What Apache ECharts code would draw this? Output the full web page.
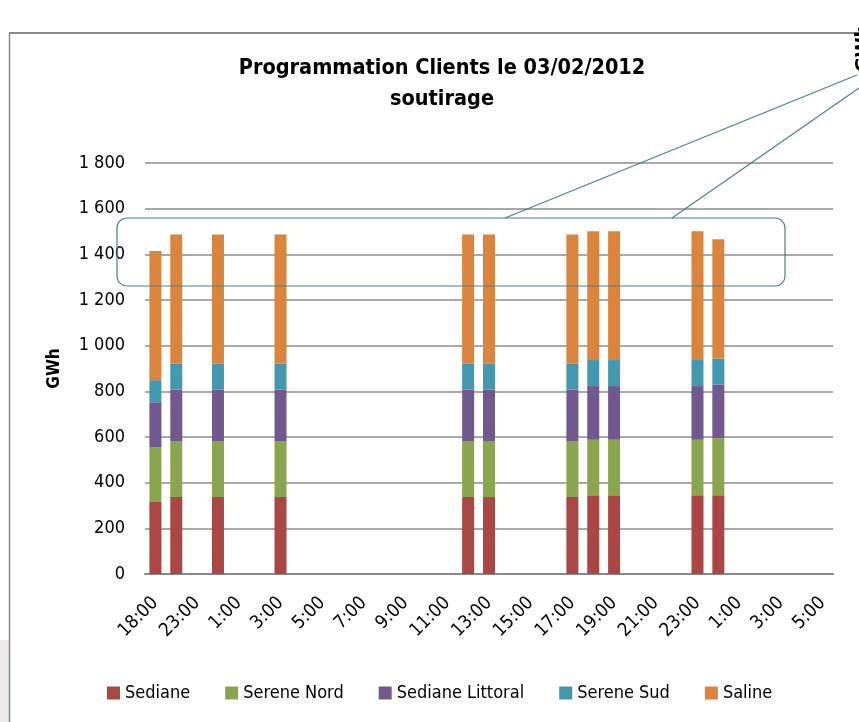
<!DOCTYPE html>
<html>
<head>
<meta charset="utf-8">
<script src="https://cdn.jsdelivr.net/npm/echarts@6/dist/echarts.min.js"></script>
<style>
  html, body { margin: 0; padding: 0; background: #fff; }
  #chart { width: 859px; height: 722px; }
</style>
</head>
<body>
<div id="chart"></div>
<script>
// heures (une categorie par heure affichee, une etiquette sur deux)
var hours = ['18:00', '22:00', '23:00', '0:00', '1:00', '2:00', '3:00', '4:00', '5:00', '6:00',
    '7:00', '8:00', '9:00', '10:00', '11:00', '12:00', '13:00', '14:00', '15:00', '16:00',
    '17:00', '18:00', '19:00', '20:00', '21:00', '22:00', '23:00', '0:00', '1:00', '2:00',
    '3:00', '4:00', '5:00'];

var seriesNames = ['Sediane', 'Serene Nord', 'Sediane Littoral', 'Serene Sud', 'Saline'];
var colors = ['#AA4643', '#89A54E', '#71588F', '#4198AF', '#DB843D'];

var _ = null;
var sediane         = [315, 337, _, 337, _, _, 337, _, _, _, _, _, _, _, _, 337, 337, _, _, _, 337, 345, 345, _, _, _, 345, 345, _, _, _, _, _];
var sereneNord      = [240, 243, _, 243, _, _, 243, _, _, _, _, _, _, _, _, 243, 243, _, _, _, 243, 243, 243, _, _, _, 243, 250, _, _, _, _, _];
var sedianeLittoral = [197, 228, _, 228, _, _, 228, _, _, _, _, _, _, _, _, 228, 228, _, _, _, 228, 235, 235, _, _, _, 235, 235, _, _, _, _, _];
var sereneSud       = [97, 113, _, 113, _, _, 113, _, _, _, _, _, _, _, _, 113, 113, _, _, _, 113, 114, 114, _, _, _, 114, 114, _, _, _, _, _];
var saline          = [566, 566, _, 566, _, _, 566, _, _, _, _, _, _, _, _, 566, 566, _, _, _, 566, 564, 564, _, _, _, 564, 522, _, _, _, _, _];

var values = [sediane, sereneNord, sedianeLittoral, sereneSud, saline];

var fontTxt = '"Liberation Sans Narrow", "DejaVu Sans Condensed", "Open Sans", sans-serif';

var chart = echarts.init(document.getElementById('chart'));

var series = [];
for (var i = 0; i < seriesNames.length; i++) {
    series.push({
        name: seriesNames[i],
        type: 'bar',
        stack: 'total',
        barWidth: 12,
        data: values[i],
        itemStyle: { color: colors[i] }
    });
}

var option = {
    animation: false,
    backgroundColor: '#fff',
    color: colors,
    title: {
        text: 'Programmation Clients le 03/02/2012\nsoutirage',
        left: 437,
        textAlign: 'center',
        top: 48,
        textStyle: {
            fontFamily: fontTxt,
            fontSize: 21.5,
            fontWeight: 'bold',
            color: '#000',
            lineHeight: 31
        }
    },
    legend: {
        bottom: 15,
        left: 102,
        icon: 'rect',
        itemWidth: 13,
        itemHeight: 13,
        itemGap: 35,
        textStyle: { fontFamily: fontTxt, fontSize: 18, color: '#000' },
        data: seriesNames
    },
    grid: {
        left: 145,
        right: 26,
        top: 163,
        bottom: 148
    },
    xAxis: {
        type: 'category',
        data: hours,
        axisLine: { lineStyle: { color: '#888', width: 2 } },
        axisTick: { show: false },
        axisLabel: {
            interval: 1,
            rotate: 45,
            margin: 26,
            color: '#000',
            fontFamily: fontTxt,
            fontSize: 18.5
        }
    },
    yAxis: {
        type: 'value',
        min: 0,
        max: 1800,
        interval: 200,
        name: 'GWh',
        nameLocation: 'middle',
        nameGap: 82,
        nameRotate: 90,
        nameTextStyle: { fontFamily: fontTxt, fontSize: 17, fontWeight: 'bold', color: '#000' },
        axisLine: { show: false },
        axisTick: { show: false },
        splitLine: { lineStyle: { color: '#8c8c8c', width: 1.5 } },
        axisLabel: {
            margin: 20,
            color: '#000',
            fontFamily: fontTxt,
            fontSize: 18,
            formatter: function (v) {
                return String(v).replace(/\B(?=(\d{3})+(?!\d))/g, ' ');
            }
        }
    },
    graphic: [
        // cadre de la zone graphique
        { type: 'rect', shape: { x: 0, y: 640, width: 9, height: 82 }, style: { fill: '#ede9e9' } },
        { type: 'line', shape: { x1: 9, y1: 33, x2: 859, y2: 33 }, style: { stroke: '#8a8a8a', lineWidth: 2 } },
        { type: 'line', shape: { x1: 9.5, y1: 33, x2: 9.5, y2: 722 }, style: { stroke: '#8a8a8a', lineWidth: 1.5 } },
        // encadre d'annotation
        { type: 'rect', z: 100, shape: { x: 117, y: 218, width: 668, height: 68, r: 10 }, style: { fill: 'none', stroke: '#4f7f8f', lineWidth: 1.2 } },
        { type: 'line', z: 100, shape: { x1: 505, y1: 218, x2: 857, y2: 75 }, style: { stroke: '#4f7f8f', lineWidth: 1.2 } },
        { type: 'line', z: 100, shape: { x1: 672, y1: 218, x2: 859, y2: 88 }, style: { stroke: '#4f7f8f', lineWidth: 1.2 } },
        {
            type: 'text', x: 854, y: 72, rotation: Math.PI / 2, z: 100,
            style: { text: 'GWh', fill: '#000', font: 'bold 20px ' + fontTxt, align: 'left', verticalAlign: 'top' }
        }
    ],
    series: series
};

chart.setOption(option);
</script>
</body>
</html>
